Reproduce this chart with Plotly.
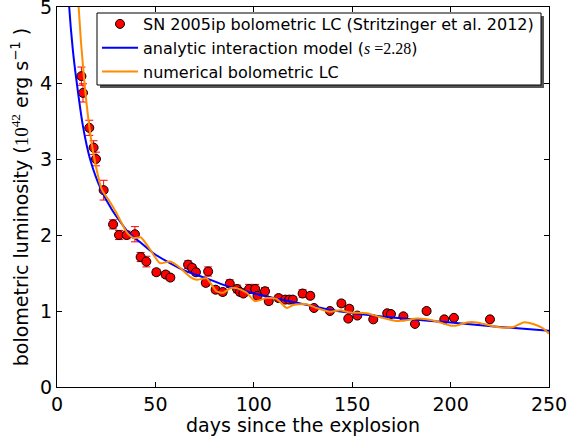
import plotly.graph_objects as go

# SN 2005ip bolometric light curve (Stritzinger et al. 2012)
obs_days = [12.4, 13.2, 16.4, 18.6, 19.8, 23.7, 28.5, 31.5, 35.4, 39.6,
            42.5, 45.4, 50.5, 55.2, 57.6, 66.6, 68.6, 70.6, 76.8, 75.6,
            80.6, 84.2, 87.8, 91.5, 93.0, 94.7, 97.6, 100.7, 101.9, 105.7,
            107.6, 112.6, 116.0, 118.0, 119.8, 124.8, 128.7, 130.6, 138.7, 144.5,
            148.5, 148.0, 152.6, 160.7, 167.8, 169.7, 176.0, 181.9, 187.8, 196.8,
            201.7, 220.0]
obs_lum = [4.09, 3.87, 3.41, 3.15, 3.00, 2.59, 2.14, 2.00, 2.00, 2.01,
           1.71, 1.65, 1.51, 1.48, 1.44, 1.61, 1.57, 1.51, 1.52, 1.37,
           1.28, 1.25, 1.36, 1.29, 1.25, 1.23, 1.29, 1.29, 1.20, 1.26,
           1.13, 1.17, 1.15, 1.15, 1.15, 1.23, 1.20, 1.04, 1.00, 1.10,
           1.03, 0.90, 0.94, 0.89, 0.97, 0.96, 0.93, 0.83, 1.00, 0.89,
           0.91, 0.89]
obs_err = [0.12, 0.12, 0.10, 0.09, 0.09, 0.13, 0.06, 0.06, 0.05, 0.10,
           0.06, 0.07, 0.04, 0.04, 0.04, 0.05, 0.04, 0.04, 0.06, 0.04,
           0.04, 0.04, 0.05, 0.05, 0.04, 0.04, 0.06, 0.06, 0.04, 0.05,
           0.04, 0.04, 0.04, 0.04, 0.04, 0.05, 0.04, 0.03, 0.03, 0.04,
           0.04, 0.03, 0.03, 0.03, 0.03, 0.03, 0.03, 0.03, 0.03, 0.03,
           0.03, 0.03]

# analytic interaction model
model_days = [5.0, 6.2, 8.0, 9.8, 13.2, 16.9, 22.5, 28.0, 36.4, 42.0, 49.0,
              57.4, 65.0, 76.0, 85.0, 93.0, 110.0, 123.5, 140.0, 157.0,
              180.0, 200.0, 225.0, 250.0]
model_lum = [5.6, 5.0, 4.45, 4.05, 3.43, 2.99, 2.59, 2.33, 2.03, 1.91, 1.76,
             1.63, 1.53, 1.43, 1.34, 1.28, 1.17, 1.10, 1.01, 0.95,
             0.89, 0.85, 0.79, 0.74]

# numerical bolometric LC
num_days = [10.0, 11.0, 13.5, 16.4, 19.1, 22.9, 26.3, 30.0, 35.6, 39.0,
            42.5, 47.3, 52.3, 57.4, 62.5, 67.6, 71.0, 76.0, 81.0, 84.5,
            88.0, 91.3, 96.4, 100.6, 106.6, 111.6, 116.7, 120.0, 126.9, 132.0,
            138.7, 143.8, 148.9, 157.4, 164.1, 172.6, 177.7, 182.8, 187.9, 194.6,
            199.7, 203.1, 208.2, 213.3, 220.0, 226.8, 231.9, 237.0, 242.0, 247.1,
            250.0]
num_lum = [5.6, 5.0, 4.13, 3.43, 2.99, 2.59, 2.46, 2.30, 2.03, 1.96,
           1.97, 1.81, 1.63, 1.65, 1.57, 1.45, 1.41, 1.43, 1.26, 1.24,
           1.30, 1.30, 1.24, 1.13, 1.17, 1.16, 1.04, 1.08, 1.09, 1.04,
           0.99, 1.01, 0.98, 0.97, 0.92, 0.87, 0.88, 0.90, 0.89, 0.85,
           0.81, 0.81, 0.85, 0.85, 0.81, 0.78, 0.79, 0.85, 0.83, 0.77,
           0.70]

x_ticks = [0, 50, 100, 150, 200, 250]
y_ticks = [0, 1, 2, 3, 4, 5]

MATH = "font-family:'Liberation Serif'"

fig = go.Figure()

fig.add_trace(go.Scatter(
    x=obs_days, y=obs_lum, mode='markers',
    name='SN 2005ip bolometric LC (Stritzinger et al. 2012)',
    marker=dict(color='#ff0000', size=9, line=dict(color='black', width=1)),
    error_y=dict(type='data', array=obs_err, color='#ff0000', thickness=1, width=4),
))

fig.add_trace(go.Scatter(
    x=model_days, y=model_lum, mode='lines',
    name=f'analytic interaction model (<span style="{MATH}"><i>s</i> =2.28</span>)',
    line=dict(color='#0000ff', width=2, shape='spline', smoothing=0.6),
))

fig.add_trace(go.Scatter(
    x=num_days, y=num_lum, mode='lines',
    name='numerical bolometric LC',
    line=dict(color='#ff8c00', width=2, shape='spline', smoothing=0.6),
))

axis_style = dict(
    showline=True, linecolor='black', linewidth=1, mirror='ticks',
    ticks='inside', ticklen=5, tickcolor='black', showgrid=False, zeroline=False,
    ticklabeloverflow='allow', automargin=False,
    tickfont=dict(family='DejaVu Sans', size=19, color='black'),
)

fig.update_xaxes(range=[0, 250], tickvals=x_ticks,
                 title=dict(text='days since the explosion', standoff=2,
                            font=dict(family='DejaVu Sans', size=19, color='black')),
                 **axis_style)
fig.update_yaxes(range=[0, 5], tickvals=y_ticks,
                 title=dict(text=f'bolometric luminosity (<span style="{MATH}">10<sup>42</sup></span> '
                                 f'erg s<sup>\u22121</sup> )',
                            standoff=6,
                            font=dict(family='DejaVu Sans', size=19, color='black')),
                 **axis_style)

# legend frame drawn by hand: grey drop shadow, then the white box
fig.add_shape(type='rect', xref='paper', yref='paper',
              x0=(100 - 57) / 492, x1=(544 - 57) / 492,
              y0=(387 - 88) / 380, y1=(387 - 16) / 380,
              fillcolor='#555555', line=dict(width=0), layer='above')
fig.add_shape(type='rect', xref='paper', yref='paper',
              x0=(97 - 57) / 492, x1=(541 - 57) / 492,
              y0=(387 - 85) / 380, y1=(387 - 13) / 380,
              fillcolor='white', line=dict(color='black', width=1), layer='above')

fig.update_layout(
    width=580, height=436,
    margin=dict(l=57, r=31, t=7, b=49, autoexpand=False),
    paper_bgcolor='white', plot_bgcolor='white',
    font=dict(family='DejaVu Sans', color='black'),
    legend=dict(x=(97 - 57) / 492, y=1.0, xanchor='left', yanchor='top',
                bgcolor='rgba(0,0,0,0)', borderwidth=0,
                font=dict(family='DejaVu Sans', size=16, color='black'),
                itemwidth=36, tracegroupgap=0),
)

# drop the page's default body margin so the figure sits at the window corner
fig.write_html("out.html", config={'displayModeBar': False},
               post_script="document.body.style.margin='0';")
